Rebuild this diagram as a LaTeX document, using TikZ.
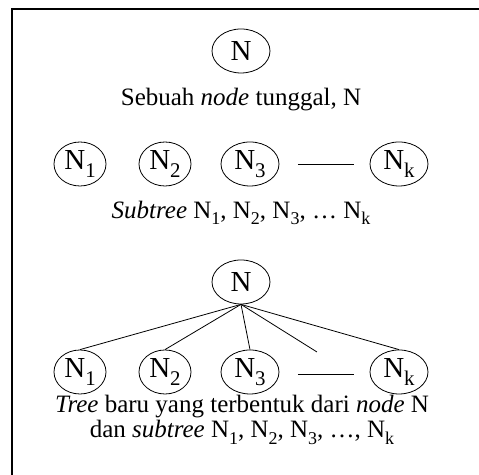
\documentclass[tikz,border=0pt]{standalone}
\usepackage{fontspec}
\setmainfont{Liberation Serif}
\usepackage{tikz}
\usetikzlibrary{shapes.geometric}

\newcommand{\Ni}[1]{N\raisebox{-0.55ex}{\fontsize{0.72em}{1em}\selectfont #1}}

\begin{document}
\begin{tikzpicture}[x=0.5pt,y=-0.5pt,
    knot/.style={draw,ellipse,inner sep=0pt,minimum width=29pt,minimum height=22pt,font=\fontsize{14.5}{17}\selectfont},
    caption/.style={font=\fontsize{12.5}{14}\selectfont,align=center,inner sep=0pt}]
            \useasboundingbox (0,0) rectangle (479,475);
            \draw[line width=0.6pt] (12,490) -- (12,9) -- (495,9);
            % sebuah node tunggal
            \node[knot] (n) at (241,51) {N};
            \node[caption] (capn) at (241,100) {Sebuah \textit{node} tunggal, N};
            % subtree
            \node[knot,minimum width=26pt] (a1) at (80,164) {\Ni{1}};
            \node[knot,minimum width=26pt] (a2) at (165,164) {\Ni{2}};
            \node[knot] (a3) at (250,164) {\Ni{3}};
            \node[knot] (ak) at (399,164) {\Ni{k}};
            \coordinate (da) at (298,164);
            \coordinate (db) at (354,164);
            \draw (da) -- (db);
            \node[caption] (capa) at (241,213) {\textit{Subtree} \Ni{1}, \Ni{2}, \Ni{3}, … \Ni{k}};
            % tree baru
            \node[knot] (t) at (241,282) {N};
            \node[knot,minimum width=26pt] (b1) at (80,372) {\Ni{1}};
            \node[knot,minimum width=26pt] (b2) at (165,372) {\Ni{2}};
            \node[knot] (b3) at (250,372) {\Ni{3}};
            \node[knot] (bk) at (399,372) {\Ni{k}};
            \coordinate (dc) at (298,374);
            \coordinate (dd) at (354,374);
            \coordinate (be) at (317,352);
            \draw (dc) -- (dd);
            \draw (t.south) -- (b1.north);
            \draw (t.south) -- (b2.north);
            \draw (t.south) -- (b3.north);
            \draw (t.south) -- (be);
            \draw (t.south) -- (bk.north);
            \node[caption] (capb) at (242,420) {\textit{Tree} baru yang terbentuk dari \textit{node} N\\[-1.5pt]dan \textit{subtree} \Ni{1}, \Ni{2}, \Ni{3}, …, \Ni{k}};
        \end{tikzpicture}
\end{document}
